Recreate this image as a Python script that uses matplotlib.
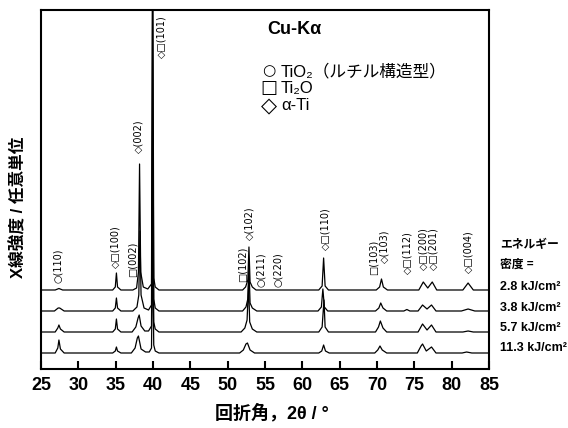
import matplotlib.pyplot as plt

plt.rcParams['font.family'] = ['Liberation Sans', 'Noto Sans CJK JP', 'DejaVu Sans']

# XRD traces: 2theta vertices and intensity above each trace's baseline (arb. units)
t28_x = [25.0, 26.9, 27.4, 27.9, 34.6, 34.95, 35.1, 35.25, 35.7, 37.3, 37.8, 38.05, 38.2, 38.35, 38.7,
         39.3, 39.8, 39.95, 40.1, 40.3, 40.8, 52.0, 52.4, 52.7, 52.85, 53.0, 53.3, 53.8, 62.2, 62.65,
         62.85, 63.05, 63.5, 69.9, 70.35, 70.6, 70.85, 71.4, 75.6, 76.2, 76.8, 77.4, 78.0, 81.5, 82.2,
         82.9, 85.0]
t28_y = [0, 0, 1.5, 0, 0, 3, 17, 3, 0, 0, 2, 18, 126, 18, 3,
         1, 6, 400, 12, 3, 0, 0, 3, 10, 43, 8, 3, 0, 0, 4,
         32, 4, 0, 0, 3, 11, 3, 0, 0, 8, 2, 8, 0, 0, 7,
         0, 0]

t38_x = [25.0, 26.8, 27.3, 27.5, 28.1, 34.6, 34.95, 35.1, 35.25, 35.7, 37.3, 37.85, 38.1, 38.25, 38.4,
         38.8, 39.4, 39.8, 39.95, 40.1, 40.3, 40.8, 52.0, 52.45, 52.7, 52.85, 53.0, 53.3, 53.9, 62.1,
         62.55, 62.75, 62.95, 63.4, 69.8, 70.25, 70.5, 70.8, 71.3, 73.6, 74.0, 74.4, 75.5, 76.1, 76.7,
         77.3, 77.9, 81.3, 82.2, 83.1, 85.0]
t38_y = [0, 0, 3, 3, 0, 0, 3, 13, 3, 0, 0, 4, 16, 80, 16,
         3, 1, 6, 300, 12, 3, 0, 0, 4, 12, 45, 8, 3, 0, 0,
         4, 22, 4, 0, 0, 3, 8, 3, 0, 0, 1.5, 0, 0, 6, 2,
         6, 0, 0, 2, 0, 0]

t57_x = [25.0, 26.9, 27.25, 27.4, 27.6, 28.1, 34.6, 34.95, 35.1, 35.25, 35.7, 37.2, 37.7, 38.0, 38.15,
         38.4, 38.9, 39.4, 39.8, 39.95, 40.1, 40.3, 40.8, 51.8, 52.3, 52.6, 52.8, 52.95, 53.3, 53.9,
         62.2, 62.65, 62.9, 63.05, 63.5, 69.8, 70.2, 70.45, 70.8, 71.3, 75.5, 76.1, 76.7, 77.3, 77.9,
         81.5, 82.2, 82.9, 85.0]
t57_y = [0, 0, 4, 7, 3, 0, 0, 3, 13, 3, 0, 0, 5, 14, 17,
         6, 1, 1, 6, 200, 10, 3, 0, 0, 4, 12, 48, 10, 3, 0,
         0, 5, 32, 5, 0, 0, 5, 11, 4, 0, 0, 8, 2, 7, 0,
         0, 1, 0, 0]

t113_x = [25.0, 26.9, 27.25, 27.4, 27.6, 28.1, 34.6, 34.95, 35.1, 35.25, 35.7, 37.1, 37.6, 37.9, 38.05,
          38.4, 39.0, 39.5, 39.8, 39.95, 40.1, 40.3, 40.8, 51.6, 52.1, 52.45, 52.65, 53.0, 53.6, 62.2,
          62.6, 62.85, 63.1, 63.6, 69.7, 70.1, 70.4, 70.7, 71.3, 75.4, 75.9, 76.1, 76.6, 77.3, 77.9,
          81.4, 82.0, 82.7, 85.0]
t113_y = [0, 0, 5, 13, 4, 0, 0, 2, 6, 2, 0, 0, 5, 15, 17,
          4, 1, 1, 5, 110, 8, 2, 0, 0, 3, 9, 10, 3, 0, 0,
          2, 8, 2, 0, 0, 3, 7, 3, 0, 0, 7, 9, 2, 6, 0,
          0, 1, 0, 0]

energy_labels = ['2.8 kJ/cm²', '3.8 kJ/cm²', '5.7 kJ/cm²', '11.3 kJ/cm²']
offsets = [79, 58, 37, 16]

# peak index labels: text, 2theta, bottom of label
peak_labels = ['○(110)', '◇□(100)', '□(002)', '◇(002)', '◇□(101)', '□(102)', '◇(102)', '○(211)',
               '○(220)', '◇□(110)', '□(103)', '◇(103)', '◇□(112)', '◇□(200)', '◇□(201)', '◇□(004)']
peak_label_x = [27.3, 35.0, 37.25, 38.1, 41.2, 52.0, 52.9, 54.45,
                56.7, 63.15, 69.5, 70.95, 74.1, 76.2, 77.6, 82.2]
peak_label_y = [86, 101, 92, 216, 311, 87, 129, 82,
                82, 119, 94, 106, 95, 99, 99, 96]

fig = plt.figure(figsize=(5.68, 4.28), dpi=100)
ax = fig.add_axes([41 / 568, 1 - 369 / 428, 448 / 568, 359 / 428])

traces = [(t28_x, t28_y), (t38_x, t38_y), (t57_x, t57_y), (t113_x, t113_y)]
for (xs, ys), off in zip(traces, offsets):
    ax.plot(xs, [v + off for v in ys], color='black', lw=0.9)

for lab, x, y in zip(peak_labels, peak_label_x, peak_label_y):
    ax.text(x, y, lab, rotation=90, ha='center', va='bottom', fontsize=7,
            family=['DejaVu Sans'])

ax.set_xlim(25, 85)
ax.set_ylim(0, 359)
ax.set_xticks(range(25, 90, 5))
ax.set_yticks([])
ax.tick_params(axis='x', direction='in', length=6, width=1.5, labelsize=13, pad=6)
for t in ax.get_xticklabels():
    t.set_fontweight('bold')
for s in ax.spines.values():
    s.set_linewidth(1.5)

# axis titles
fig.text(272 / 568, 1 - 413 / 428, '回折角，2θ / °', ha='center', va='center',
         fontsize=13, fontweight='bold')
fig.text(18 / 568, 1 - 207 / 428, 'X線強度 / 任意単位', ha='center', va='center',
         rotation=90, fontsize=12, fontweight='bold')

# legend block
fig.text(267 / 568, 1 - 30 / 428, 'Cu-Kα', ha='left', va='center', fontsize=13, fontweight='bold')
legend_sym = ['○', '□', '◇']
legend_txt = ['TiO₂（ルチル構造型）', 'Ti₂O', 'α-Ti']
legend_y = [71, 88, 106]
sym_size = [11, 13, 15]
for sym, txt, y, fs in zip(legend_sym, legend_txt, legend_y, sym_size):
    fig.text(269 / 568, 1 - y / 428, sym, ha='center', va='center', fontsize=fs,
             family=['DejaVu Sans'])
    fig.text(281 / 568, 1 - y / 428, txt, ha='left', va='center', fontsize=12)

# energy density labels
fig.text(500 / 568, 1 - 245 / 428, 'エネルギー', ha='left', va='center', fontsize=8.5,
         fontweight='bold')
fig.text(500 / 568, 1 - 265 / 428, '密度 =', ha='left', va='center', fontsize=8.5,
         fontweight='bold')
for lab, y in zip(energy_labels, [287, 308, 328, 348]):
    fig.text(500 / 568, 1 - y / 428, lab, ha='left', va='center', fontsize=9, fontweight='bold')

fig.savefig('out.png', dpi=100)
